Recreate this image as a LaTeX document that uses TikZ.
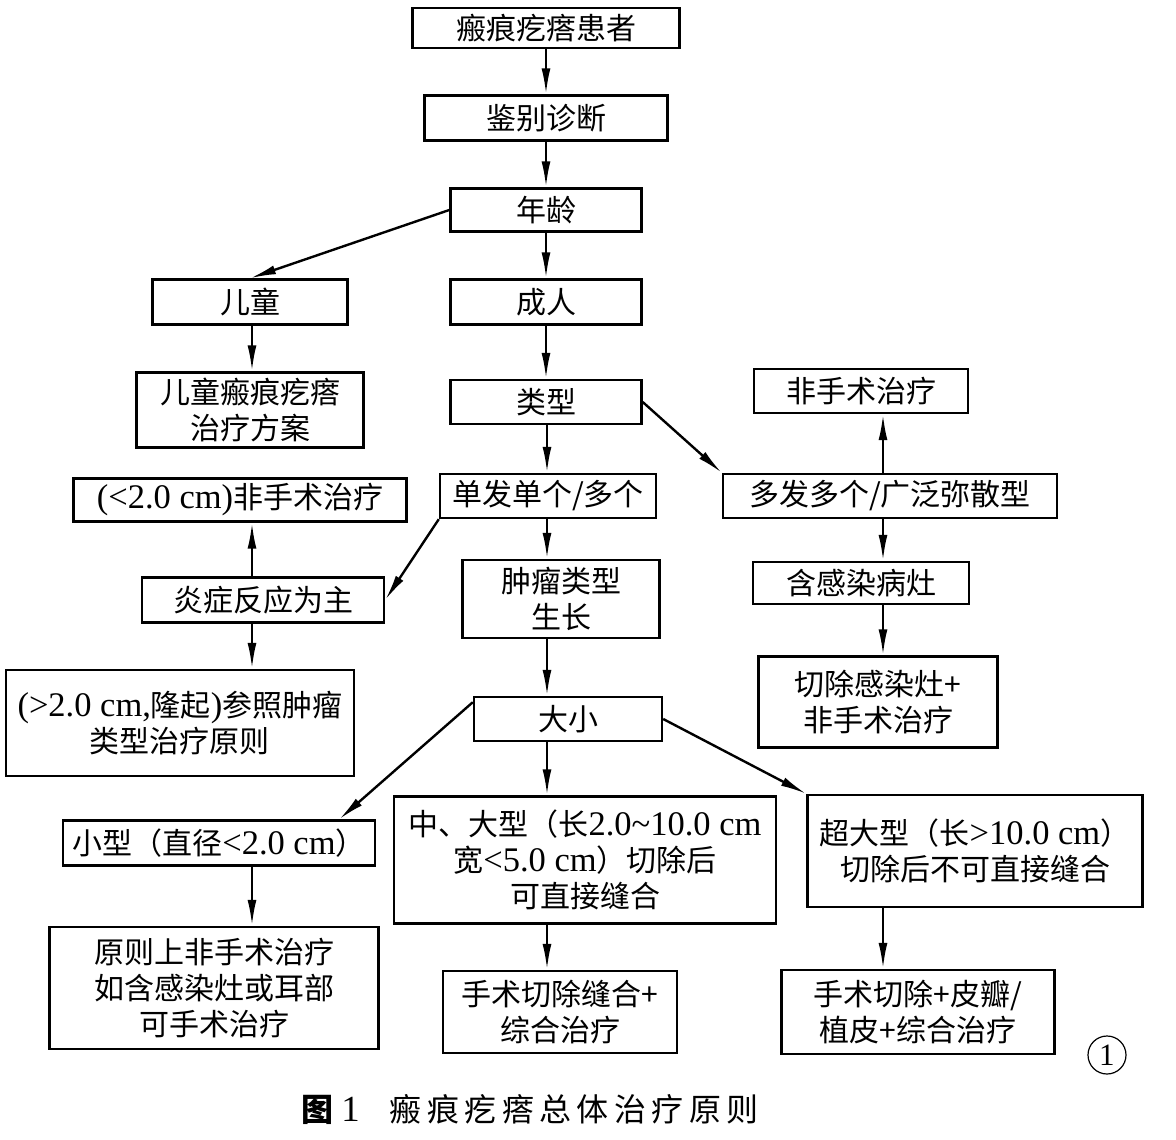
\documentclass[tikz,border=0pt]{standalone}
\usepackage{fontspec}
\setmainfont{Noto Sans CJK SC}
\newfontfamily\en[Scale=1.15]{Liberation Serif}
\usetikzlibrary{arrows.meta,calc}

\begin{document}
\begin{tikzpicture}[
    x=1pt, y=-1pt,
    box/.style={rectangle, draw=black, line width=2.4pt, inner sep=0pt, align=center, font=\fontsize{30}{36}\selectfont},
    arrow/.style={-{Latex[length=26pt,width=9pt]}, line width=2.4pt}
]
    \useasboundingbox (0,0) rectangle (1176,1140);

    % Columns for the vertical arrows
    \coordinate (colL) at (252,0);
    \coordinate (colM) at (547,0);
    \coordinate (colR) at (883,0);

    % Top chain
    \node[box, minimum width=267pt, minimum height=40pt] (patient) at (546,28) {瘢痕疙瘩患者};
    \node[box, minimum width=243pt, minimum height=45pt] (diag) at (546,118) {鉴别诊断};
    \node[box, minimum width=191pt, minimum height=43pt] (age) at (546,210) {年龄};

    % Age branches
    \node[box, minimum width=195pt, minimum height=45pt] (child) at (250,302) {儿童};
    \node[box, minimum width=191pt, minimum height=45pt] (adult) at (546,302) {成人};
    \node[box, minimum width=227pt, minimum height=75pt] (childplan) at (250,410) {儿童瘢痕疙瘩\\治疗方案};
    \node[box, minimum width=191pt, minimum height=44pt] (type) at (546,402) {类型};

    % Type branches
    \node[box, minimum width=214pt, minimum height=44pt] (nonsurg) at (861,391) {非手术治疗};
    \node[box, minimum width=333pt, minimum height=43pt] (lt) at (240,500) {{\en (<2.0 cm)}非手术治疗};
    \node[box, minimum width=216pt, minimum height=44pt] (single) at (548,496) {单发单个/多个};
    \node[box, minimum width=334pt, minimum height=44pt] (multi) at (890,496) {多发多个/广泛弥散型};
    \node[box, minimum width=242pt, minimum height=45pt] (infl) at (263,600) {炎症反应为主};
    \node[box, minimum width=197pt, minimum height=78pt] (tumor) at (561,599) {肿瘤类型\\生长};
    \node[box, minimum width=216pt, minimum height=42pt] (inf) at (861,583) {含感染病灶};
    \node[box, minimum width=239pt, minimum height=91pt] (excinf) at (878,702) {切除感染灶+\\非手术治疗};
    \node[box, minimum width=348pt, minimum height=106pt] (gt) at (180,723) {{\en (>2.0 cm,}隆起{\en )}参照肿瘤\\类型治疗原则};

    % Size branches
    \node[box, minimum width=188pt, minimum height=44pt] (size) at (568,719) {大小};
    \node[box, minimum width=312pt, minimum height=45pt] (small) at (219,843) {小型（直径{\en <2.0 cm}）};
    \node[box, minimum width=382pt, minimum height=127pt] (mid) at (585,860) {中、大型（长{\en 2.0\textasciitilde10.0 cm}\\宽{\en <5.0 cm}）切除后\\可直接缝合};
    \node[box, minimum width=335pt, minimum height=112pt] (super) at (975,851) {超大型（长{\en >10.0 cm}）\\切除后不可直接缝合};
    \node[box, minimum width=329pt, minimum height=122pt] (rule) at (214,988) {原则上非手术治疗\\如含感染灶或耳部\\可手术治疗};
    \node[box, minimum width=234pt, minimum height=82pt] (surg) at (560,1012) {手术切除缝合+\\综合治疗};
    \node[box, minimum width=273pt, minimum height=84pt] (flap) at (918,1012) {手术切除+皮瓣/\\植皮+综合治疗};

    % Arrows
    \draw[arrow] (patient.south) -- (diag.north);
    \draw[arrow] (diag.south) -- (age.north);
    \draw[arrow] (age.west) -- (child.north);
    \draw[arrow] (age.south) -- (adult.north);
    \draw[arrow] (child.south -| colL) -- (childplan.north -| colL);
    \draw[arrow] (adult.south) -- (type.north);
    \draw[arrow] (type.south -| colM) -- (single.north -| colM);
    \draw[arrow] (type.east) -- (multi.north west);
    \draw[arrow] (multi.north -| colR) -- (nonsurg.south -| colR);
    \draw[arrow] (multi.south -| colR) -- (inf.north -| colR);
    \draw[arrow] (inf.south -| colR) -- (excinf.north -| colR);
    \draw[arrow] (single.south west) -- (infl.east);
    \draw[arrow] (infl.north -| colL) -- (lt.south -| colL);
    \draw[arrow] (infl.south -| colL) -- (gt.north -| colL);
    \draw[arrow] (single.south -| colM) -- (tumor.north -| colM);
    \draw[arrow] (tumor.south -| colM) -- (size.north -| colM);
    \draw[arrow] (size.170) -- ($(small.north east)+(-37,0)$);
    \draw[arrow] (size.south -| colM) -- (mid.north -| colM);
    \draw[arrow] (size.east) -- (super.north west);
    \draw[arrow] (small.south -| colL) -- (rule.north -| colL);
    \draw[arrow] (mid.south -| colM) -- (surg.north -| colM);
    \draw[arrow] (super.south -| colR) -- (flap.north -| colR);

    % Figure number and caption
    \node[circle, draw=black, line width=1.2pt, minimum size=38pt, inner sep=0pt, font=\en\fontsize{27}{27}\selectfont] (num) at (1107,1055) {1};
    \node[font=\fontsize{32}{38}\selectfont] (caption) at (530,1110) {\textbf{图}\hspace{8pt}{\en 1}\hspace{30pt}{\addfontfeature{LetterSpace=17}瘢痕疙瘩总体治疗原则}};
\end{tikzpicture}
\end{document}
